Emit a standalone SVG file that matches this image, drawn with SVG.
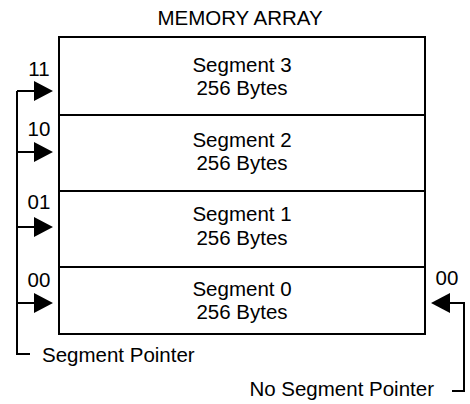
<svg xmlns="http://www.w3.org/2000/svg" width="470" height="404" viewBox="0 0 470 404">
<style>
text{font-family:"Liberation Sans",Arial,sans-serif;font-size:20.5px;fill:#000}
.c{text-anchor:middle}
.box{fill:#fff;stroke:#000;stroke-width:2}
.ln{fill:none;stroke:#000;stroke-width:2}
.ah{fill:#000}
</style>
<rect width="470" height="404" fill="#fff"/>
<text class="c" x="240" y="25">MEMORY ARRAY</text>
<g id="seg3"><rect class="box" x="59" y="37" width="366" height="78"/><text class="c" x="242" y="72">Segment 3</text><text class="c" x="242" y="95">256 Bytes</text></g>
<g id="seg2"><rect class="box" x="59" y="115" width="366" height="76"/><text class="c" x="242" y="147">Segment 2</text><text class="c" x="242" y="170">256 Bytes</text></g>
<g id="seg1"><rect class="box" x="59" y="191" width="366" height="76"/><text class="c" x="242" y="221">Segment 1</text><text class="c" x="242" y="245">256 Bytes</text></g>
<g id="seg0"><rect class="box" x="59" y="267" width="366" height="67"/><text class="c" x="242" y="296">Segment 0</text><text class="c" x="242" y="319">256 Bytes</text></g>
<g id="connectors">
<path class="ln" d="M17 91V354H30M17 91H36M17 152H36M17 227H36M17 303H36"/>
<path class="ah" d="M34 81L53 91L34 101Z M34 142L53 152L34 162Z M34 217L53 227L34 237Z M34 293L53 303L34 313Z"/>
<path class="ln" d="M448 303H464V391H452"/>
<path class="ah" d="M450 293L431 303L450 313Z"/>
</g>
<text class="c" x="39" y="76">11</text>
<text class="c" x="39" y="136">10</text>
<text class="c" x="39" y="209">01</text>
<text class="c" x="39" y="287">00</text>
<text class="c" x="447" y="285">00</text>
<text x="42" y="362">Segment Pointer</text>
<text x="434" y="396" text-anchor="end">No Segment Pointer</text>
</svg>
